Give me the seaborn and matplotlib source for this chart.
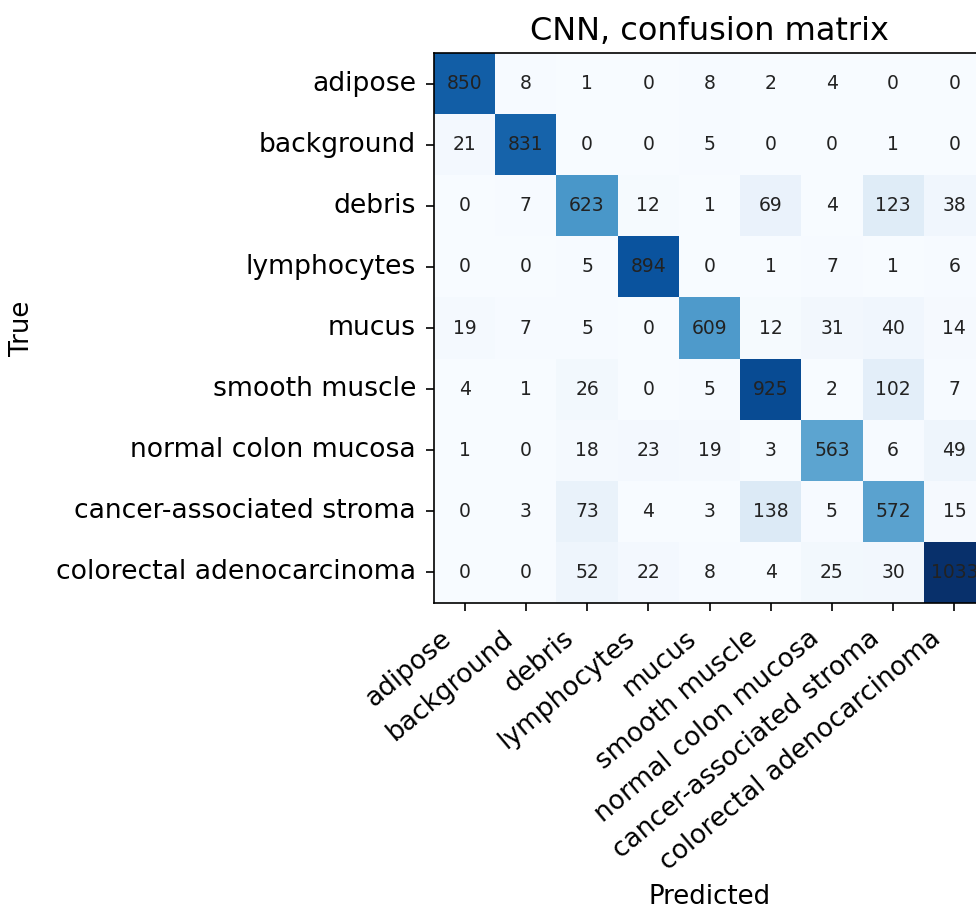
import numpy as np
import pandas as pd
import matplotlib
matplotlib.use("Agg")
import matplotlib.pyplot as plt
from matplotlib.transforms import ScaledTranslation
import seaborn as sns

classes = ["adipose", "background", "debris", "lymphocytes", "mucus",
           "smooth muscle", "normal colon mucosa", "cancer-associated stroma",
           "colorectal adenocarcinoma"]

row_adipose = [850, 8, 1, 0, 8, 2, 4, 0, 0]
row_background = [21, 831, 0, 0, 5, 0, 0, 1, 0]
row_debris = [0, 7, 623, 12, 1, 69, 4, 123, 38]
row_lymphocytes = [0, 0, 5, 894, 0, 1, 7, 1, 6]
row_mucus = [19, 7, 5, 0, 609, 12, 31, 40, 14]
row_smooth_muscle = [4, 1, 26, 0, 5, 925, 2, 102, 7]
row_normal_mucosa = [1, 0, 18, 23, 19, 3, 563, 6, 49]
row_stroma = [0, 3, 73, 4, 3, 138, 5, 572, 15]
row_adenocarcinoma = [0, 0, 52, 22, 8, 4, 25, 30, 1033]

cm = pd.DataFrame([row_adipose, row_background, row_debris, row_lymphocytes,
                   row_mucus, row_smooth_muscle, row_normal_mucosa, row_stroma,
                   row_adenocarcinoma], index=classes, columns=classes)

fig = plt.figure(figsize=(9.76, 9.13), dpi=100)
ax = fig.add_axes([434/976, 1 - 603/913, 551/976, 550/913])

sns.heatmap(cm, ax=ax, cmap="Blues", annot=True, fmt="d", cbar=False,
            annot_kws={"color": "#222222", "fontsize": 13.5})

for s in ax.spines.values():
    s.set_visible(True)
    s.set_color("black")
    s.set_linewidth(1.2)

ax.tick_params(axis="both", length=6, width=1.2, labelsize=19.2)
ax.tick_params(axis="y", pad=7)
ax.tick_params(axis="x", pad=10)
ax.set_xticklabels(classes, rotation=40, ha="right", fontsize=19)
ax.set_yticklabels(classes, rotation=0)
shift = ScaledTranslation(-8/100, 0, fig.dpi_scale_trans)
for lab in ax.get_xticklabels():
    lab.set_transform(lab.get_transform() + shift)
ax.set_title("CNN, confusion matrix", fontsize=23, pad=9)
ax.set_xlabel("Predicted", fontsize=18.7)
ax.set_ylabel("True", fontsize=18.7)
ax.xaxis.set_label_coords(0.5, -0.51)
ax.yaxis.set_label_coords(-0.724, 0.5)

fig.savefig("out.png", dpi=100)
